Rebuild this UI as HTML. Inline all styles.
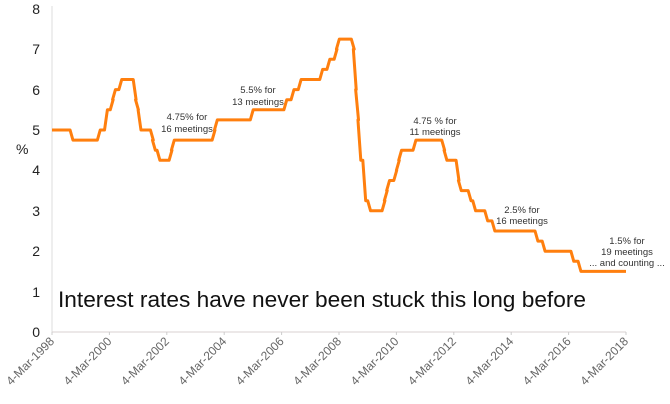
<!DOCTYPE html>
<html><head><meta charset="utf-8"><style>
body{margin:0;background:#fff;}
svg{display:block;font-family:"Liberation Sans",sans-serif;}
</style></head><body>
<svg id="s" width="670" height="404" viewBox="0 0 670 404">
<line x1="52" y1="6" x2="52" y2="332" stroke="#ddd" stroke-width="1"/>
<line x1="52" y1="332" x2="626" y2="332" stroke="#d8d0d0" stroke-width="1"/>
<g font-size="14" fill="#222" text-anchor="end">
<text x="40" y="337">0</text><text x="40" y="297">1</text><text x="40" y="256">2</text><text x="40" y="216">3</text><text x="40" y="175">4</text><text x="40" y="135">5</text><text x="40" y="95">6</text><text x="40" y="54">7</text><text x="40" y="14">8</text>
</g>
<text x="16" y="154" font-size="14" fill="#222">%</text>
<g id="ticks"></g>
<path id="p" fill="none" stroke="#ff7f0e" stroke-width="3" stroke-linejoin="round"/>
<g font-size="9.5" fill="#333" text-anchor="middle">
<text x="187" y="120">4.75% for</text><text x="187" y="132">16 meetings</text>
<text x="258" y="93">5.5% for</text><text x="258" y="105">13 meetings</text>
<text x="435" y="124">4.75 % for</text><text x="435" y="135">11 meetings</text>
<text x="522" y="213">2.5% for</text><text x="522" y="224">16 meetings</text>
<text x="627" y="244">1.5% for</text><text x="627" y="255">19 meetings</text><text x="627" y="266">... and counting ...</text>
</g>
<text x="58" y="307" font-size="22" fill="#111" textLength="528" lengthAdjust="spacingAndGlyphs">Interest rates have never been stuck this long before</text>
</svg>
<script>
var X=function(t){return 52+(t-1998.17)*28.7},Y=function(v){return 332-v*40.4};
var ch=[[1998.9,4.75],[1999.85,5],[2000.1,5.5],[2000.3,5.75],[2000.38,6],[2000.6,6.25],[2001.1,5.75],[2001.18,5.5],[2001.27,5],[2001.7,4.75],[2001.77,4.5],[2001.93,4.25],[2002.35,4.5],[2002.43,4.75],[2003.85,5],[2003.93,5.25],[2005.18,5.5],[2006.35,5.75],[2006.6,6],[2006.85,6.25],[2007.6,6.5],[2007.85,6.75],[2008.1,7],[2008.18,7.25],[2008.7,7],[2008.77,6],[2008.85,5.25],[2008.93,4.25],[2009.1,3.25],[2009.27,3],[2009.77,3.25],[2009.85,3.5],[2009.93,3.75],[2010.18,4],[2010.27,4.25],[2010.35,4.5],[2010.85,4.75],[2011.85,4.5],[2011.93,4.25],[2012.35,3.75],[2012.43,3.5],[2012.77,3.25],[2012.93,3],[2013.35,2.75],[2013.6,2.5],[2015.1,2.25],[2015.35,2],[2016.35,1.75],[2016.6,1.5]];
var d="M"+X(1998.17)+","+Y(5),cur=5;
ch.forEach(function(c){d+=" L"+X(c[0]-0.1)+","+Y(cur)+" L"+X(c[0])+","+Y(c[1]);cur=c[1];});
d+=" L"+X(2018.17)+","+Y(cur);
document.getElementById("p").setAttribute("d",d);
var g=document.getElementById("ticks"),h="";
for(var k=0;k<=10;k++){var x=52+k*57.4;h+='<line x1="'+x+'" y1="332" x2="'+x+'" y2="335" stroke="#ccc"/>';
h+='<text transform="translate('+(x+3)+',342) rotate(-45)" text-anchor="end" font-size="12" fill="#666">4-Mar-'+(1998+2*k)+'</text>';}
g.innerHTML=h;
</script>
</body></html>
